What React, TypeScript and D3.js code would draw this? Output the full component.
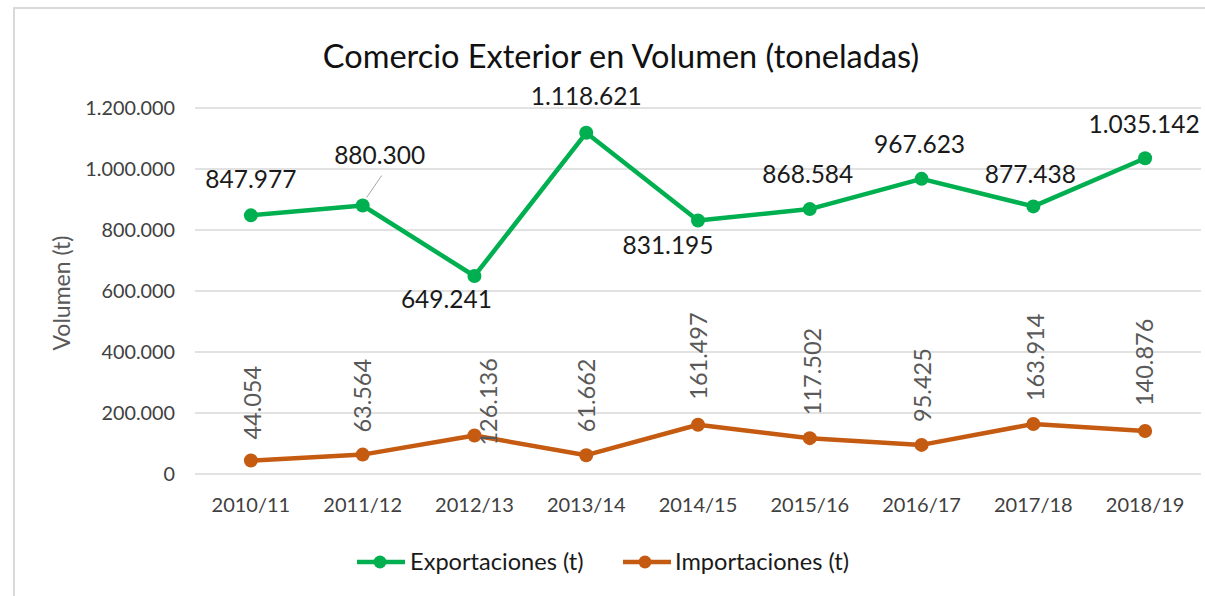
import React from "react";
import * as d3 from "d3";

const categories = ["2010/11", "2011/12", "2012/13", "2013/14", "2014/15", "2015/16", "2016/17", "2017/18", "2018/19"];
const exportaciones = [847977, 880300, 649241, 1118621, 831195, 868584, 967623, 877438, 1035142];
const importaciones = [44054, 63564, 126136, 61662, 161497, 117502, 95425, 163914, 140876];
const yTicks = [0, 200000, 400000, 600000, 800000, 1000000, 1200000];
const seriesNames = ["Exportaciones (t)", "Importaciones (t)"];

// label placement offsets (dx, dy) relative to the point
const expLabelOffsets: [number, number][] = [
  [0, -27], [17, -42], [-28, 32], [0, -28], [-30, 34], [-2, -26], [-2, -26], [-3, -23], [-1, -25],
];
const impLabelOffsets: [number, number][] = [
  [2, -21], [0, -22], [15, 10], [1, -23], [1, -25], [3, -23], [1, -23], [3, -23], [0, -25],
];

const W = 1205;
const H = 596;
const GREEN = "#00B050";
const ORANGE = "#C55A11";
const FONT = "Lato, 'Open Sans', sans-serif";

const fmt = (v: number) => {
  const s = Math.round(v).toString();
  return s.replace(/\B(?=(\d{3})+(?!\d))/g, ".");
};

export default function App() {
  const x = d3.scaleBand<string>().domain(categories).range([195, 1201]);
  const y = d3.scaleLinear().domain([0, 1200000]).range([474, 108]);
  const cx = (c: string) => (x(c) as number) + x.bandwidth() / 2;
  const line = d3
    .line<number>()
    .x((_, i) => cx(categories[i]))
    .y((d) => y(d));

  return (
    <svg
      width={W}
      height={H}
      style={{ position: "absolute", left: 0, top: 0, background: "#fff" }}
      fontFamily={FONT}
    >
      <rect x={0} y={0} width={W} height={H} fill="#fff" />
      <rect x={14} y={8} width={W + 20} height={H + 20} fill="none" stroke="#d9d9d9" strokeWidth={2} />

      <text x={621} y={68} textAnchor="middle" fontSize={32.5} fill="#111">
        Comercio Exterior en Volumen (toneladas)
      </text>

      {yTicks.map((t) => (
        <g key={t}>
          <line x1={195} x2={1201} y1={y(t)} y2={y(t)} stroke="#d9d9d9" strokeWidth={1.3} />
          <text x={175} y={y(t)} dy="0.35em" textAnchor="end" fontSize={19.8} fill="#404040">
            {fmt(t)}
          </text>
        </g>
      ))}

      <text
        transform={`translate(70,293) rotate(-90)`}
        textAnchor="middle"
        fontSize={23}
        fill="#595959"
      >
        Volumen (t)
      </text>

      {categories.map((c) => (
        <text key={c} x={cx(c)} y={512} textAnchor="middle" fontSize={20} fill="#404040">
          {c}
        </text>
      ))}

      <path d={line(exportaciones) || ""} fill="none" stroke={GREEN} strokeWidth={4.5} strokeLinejoin="round" />
      <path d={line(importaciones) || ""} fill="none" stroke={ORANGE} strokeWidth={4.5} strokeLinejoin="round" />

      {exportaciones.map((v, i) => (
        <circle key={"e" + i} cx={cx(categories[i])} cy={y(v)} r={7} fill={GREEN} />
      ))}
      {importaciones.map((v, i) => (
        <circle key={"i" + i} cx={cx(categories[i])} cy={y(v)} r={7} fill={ORANGE} />
      ))}

      <line
        x1={cx(categories[1]) + 4}
        y1={y(exportaciones[1]) - 8}
        x2={cx(categories[1]) + 19}
        y2={y(exportaciones[1]) - 30}
        stroke="#a6a6a6"
        strokeWidth={1}
      />

      {exportaciones.map((v, i) => (
        <text
          key={"el" + i}
          x={cx(categories[i]) + expLabelOffsets[i][0]}
          y={y(v) + expLabelOffsets[i][1]}
          textAnchor="middle"
          fontSize={24.5}
          fill="#1a1a1a"
        >
          {fmt(v)}
        </text>
      ))}

      {importaciones.map((v, i) => {
        const px = cx(categories[i]) + impLabelOffsets[i][0] + 8;
        const py = y(v) + impLabelOffsets[i][1];
        return (
          <text
            key={"il" + i}
            transform={`translate(${px},${py}) rotate(-90)`}
            textAnchor="start"
            fontSize={23.5}
            fill="#595959"
          >
            {fmt(v)}
          </text>
        );
      })}

      {/* legend */}
      <g>
        <line x1={357} x2={405} y1={562} y2={562} stroke={GREEN} strokeWidth={4.5} />
        <circle cx={380} cy={562} r={6.5} fill={GREEN} />
        <text x={410} y={570} fontSize={23.6} fill="#1a1a1a">
          {seriesNames[0]}
        </text>
        <line x1={623} x2={671} y1={562} y2={562} stroke={ORANGE} strokeWidth={4.5} />
        <circle cx={645} cy={562} r={6.5} fill={ORANGE} />
        <text x={675} y={570} fontSize={23.6} fill="#1a1a1a">
          {seriesNames[1]}
        </text>
      </g>
    </svg>
  );
}
